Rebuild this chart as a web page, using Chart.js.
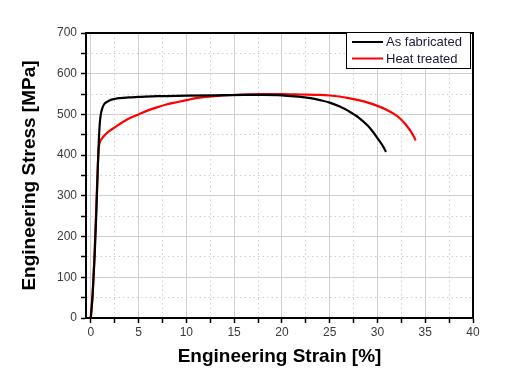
<!DOCTYPE html>
<html>
<head>
<meta charset="utf-8">
<script src="https://cdn.jsdelivr.net/npm/chart.js@4"></script>
<style>
  html, body { margin: 0; padding: 0; background: #ffffff; }
  #wrap { width: 512px; height: 380px; position: relative; }
</style>
</head>
<body>
<div id="wrap"><canvas id="c" width="512" height="380"></canvas></div>
<script>
// ---- Data ----
const seriesLabels = ['As fabricated', 'Heat treated'];
const seriesColors = ['#000000', '#ff0000'];

const fabStrain = [0, 0.2, 0.4, 0.6, 0.75, 0.85, 0.95, 1.05, 1.2, 1.4, 1.7, 2.0, 2.5, 3, 4, 5, 7, 10, 13, 16, 18, 20, 21, 22, 23, 24, 25, 26, 27, 28, 29, 29.5, 30, 30.5, 30.9];
const fabStress = [0, 60, 150, 270, 380, 440, 480, 500, 515, 525, 531, 535, 538, 540, 542, 543, 545, 546, 547, 548, 548, 547, 545, 543, 540, 535, 529, 520, 508, 493, 472, 458, 442, 425, 408];

const heatStrain = [0, 0.2, 0.4, 0.6, 0.75, 0.85, 0.95, 1.2, 1.5, 2, 2.5, 3, 4, 5, 6, 7, 8, 9, 10, 11, 12, 14, 16, 18, 20, 22, 24, 25, 26, 27, 28, 29, 30, 31, 32, 32.5, 33, 33.5, 33.8, 34];
const heatStress = [0, 60, 160, 290, 380, 420, 432, 442, 450, 460, 468, 476, 490, 500, 510, 518, 525, 530, 535, 540, 543, 547, 549, 550, 550, 549, 548, 546.5, 544, 540, 535, 529, 521, 511, 497, 487, 474, 458, 446, 436];

const xTicks = [0, 5, 10, 15, 20, 25, 30, 35, 40];
const yTicks = [0, 100, 200, 300, 400, 500, 600, 700];

const xTitle = 'Engineering Strain [%]';
const yTitle = 'Engineering Stress [MPa]';

// ---- Build ----
function toPoints(xs, ys) { return xs.map((x, i) => ({ x: x, y: ys[i] })); }
function withMinor(major) {
  const out = [];
  for (let i = 0; i < major.length; i++) {
    out.push({ value: major[i], major: true });
    if (i < major.length - 1) out.push({ value: (major[i] + major[i + 1]) / 2, major: false });
  }
  return out;
}
const majorSetX = new Set(xTicks);
const majorSetY = new Set(yTicks);

const gridColor = '#cfcfcf';
function gridDash(set) {
  return (ctx) => {
    if (!ctx || !ctx.tick) return [];
    return set.has(ctx.tick.value) ? [] : [1.5, 3];
  };
}

const framePlugin = {
  id: 'frame',
  afterDatasetsDraw(chart) {
    const { ctx, chartArea: a } = chart;
    ctx.save();
    ctx.strokeStyle = '#000';
    ctx.lineWidth = 2;
    ctx.beginPath();
    ctx.moveTo(a.left, a.top);
    ctx.lineTo(a.right, a.top);
    ctx.lineTo(a.right, a.bottom);
    ctx.stroke();
    ctx.restore();
  },
  afterDraw(chart) {
    const { ctx } = chart;
    // legend box
    const bx = 346, by = 32, bw = 124, bh = 36;
    ctx.save();
    ctx.fillStyle = '#ffffff';
    ctx.fillRect(bx, by, bw, bh);
    ctx.strokeStyle = '#000';
    ctx.lineWidth = 1;
    ctx.strokeRect(bx + 0.5, by + 0.5, bw, bh);
    ctx.font = '13px "Liberation Sans", Arial, sans-serif';
    ctx.textBaseline = 'middle';
    chart.data.datasets.forEach((ds, i) => {
      const y = by + 10 + i * 16.5;
      ctx.strokeStyle = ds.borderColor;
      ctx.lineWidth = 2;
      ctx.beginPath();
      ctx.moveTo(bx + 6, y);
      ctx.lineTo(bx + 37, y);
      ctx.stroke();
      ctx.fillStyle = '#1a1a3a';
      ctx.fillText(ds.label, bx + 40, y + 0.5);
    });
    ctx.restore();
  }
};

new Chart(document.getElementById('c'), {
  type: 'scatter',
  data: {
    datasets: [
      { label: seriesLabels[0], data: toPoints(fabStrain, fabStress), borderColor: seriesColors[0], backgroundColor: seriesColors[0],
        showLine: true, pointRadius: 0, borderWidth: 2.2, cubicInterpolationMode: 'monotone', order: 1 },
      { label: seriesLabels[1], data: toPoints(heatStrain, heatStress), borderColor: seriesColors[1], backgroundColor: seriesColors[1],
        showLine: true, pointRadius: 0, borderWidth: 2.2, cubicInterpolationMode: 'monotone', order: 2 }
    ]
  },
  options: {
    responsive: false,
    animation: false,
    devicePixelRatio: 1,
    layout: { padding: { top: 33, right: 39, left: 0, bottom: 0 } },
    plugins: { legend: { display: false }, tooltip: { enabled: false } },
    scales: {
      x: {
        type: 'linear', min: -0.5, max: 40,
        afterBuildTicks: (s) => { s.ticks = withMinor(xTicks); },
        afterFit: (s) => { s.height = 62; },
        ticks: {
          autoSkip: false, maxRotation: 0, padding: 2,
          color: '#3a3a3a',
          font: { family: '"Liberation Sans", Arial, sans-serif', size: 12 },
          callback: (v) => majorSetX.has(v) ? String(v) : ''
        },
        grid: { color: gridColor, lineWidth: 1, tickLength: 5, tickColor: '#000', tickWidth: 1.5 },
        border: { color: '#000', width: 2, dash: gridDash(majorSetX) },
        title: { display: true, text: xTitle, color: '#000',
          font: { family: '"Liberation Sans", Arial, sans-serif', size: 19, weight: 'bold' },
          padding: { top: 0, bottom: 11.5 } }
      },
      y: {
        type: 'linear', min: 0, max: 700,
        afterBuildTicks: (s) => { s.ticks = withMinor(yTicks); },
        afterFit: (s) => { s.width = 86; },
        ticks: {
          autoSkip: false, padding: 4,
          color: '#3a3a3a',
          font: { family: '"Liberation Sans", Arial, sans-serif', size: 12 },
          callback: (v) => majorSetY.has(v) ? String(v) : ''
        },
        grid: { color: gridColor, lineWidth: 1, tickLength: 5, tickColor: '#000', tickWidth: 1.5 },
        border: { color: '#000', width: 2, dash: gridDash(majorSetY) },
        title: { display: true, text: yTitle, color: '#000',
          font: { family: '"Liberation Sans", Arial, sans-serif', size: 19, weight: 'bold' },
          padding: { top: 18.5, bottom: 0 } }
      }
    }
  },
  plugins: [framePlugin]
});
</script>
</body>
</html>
